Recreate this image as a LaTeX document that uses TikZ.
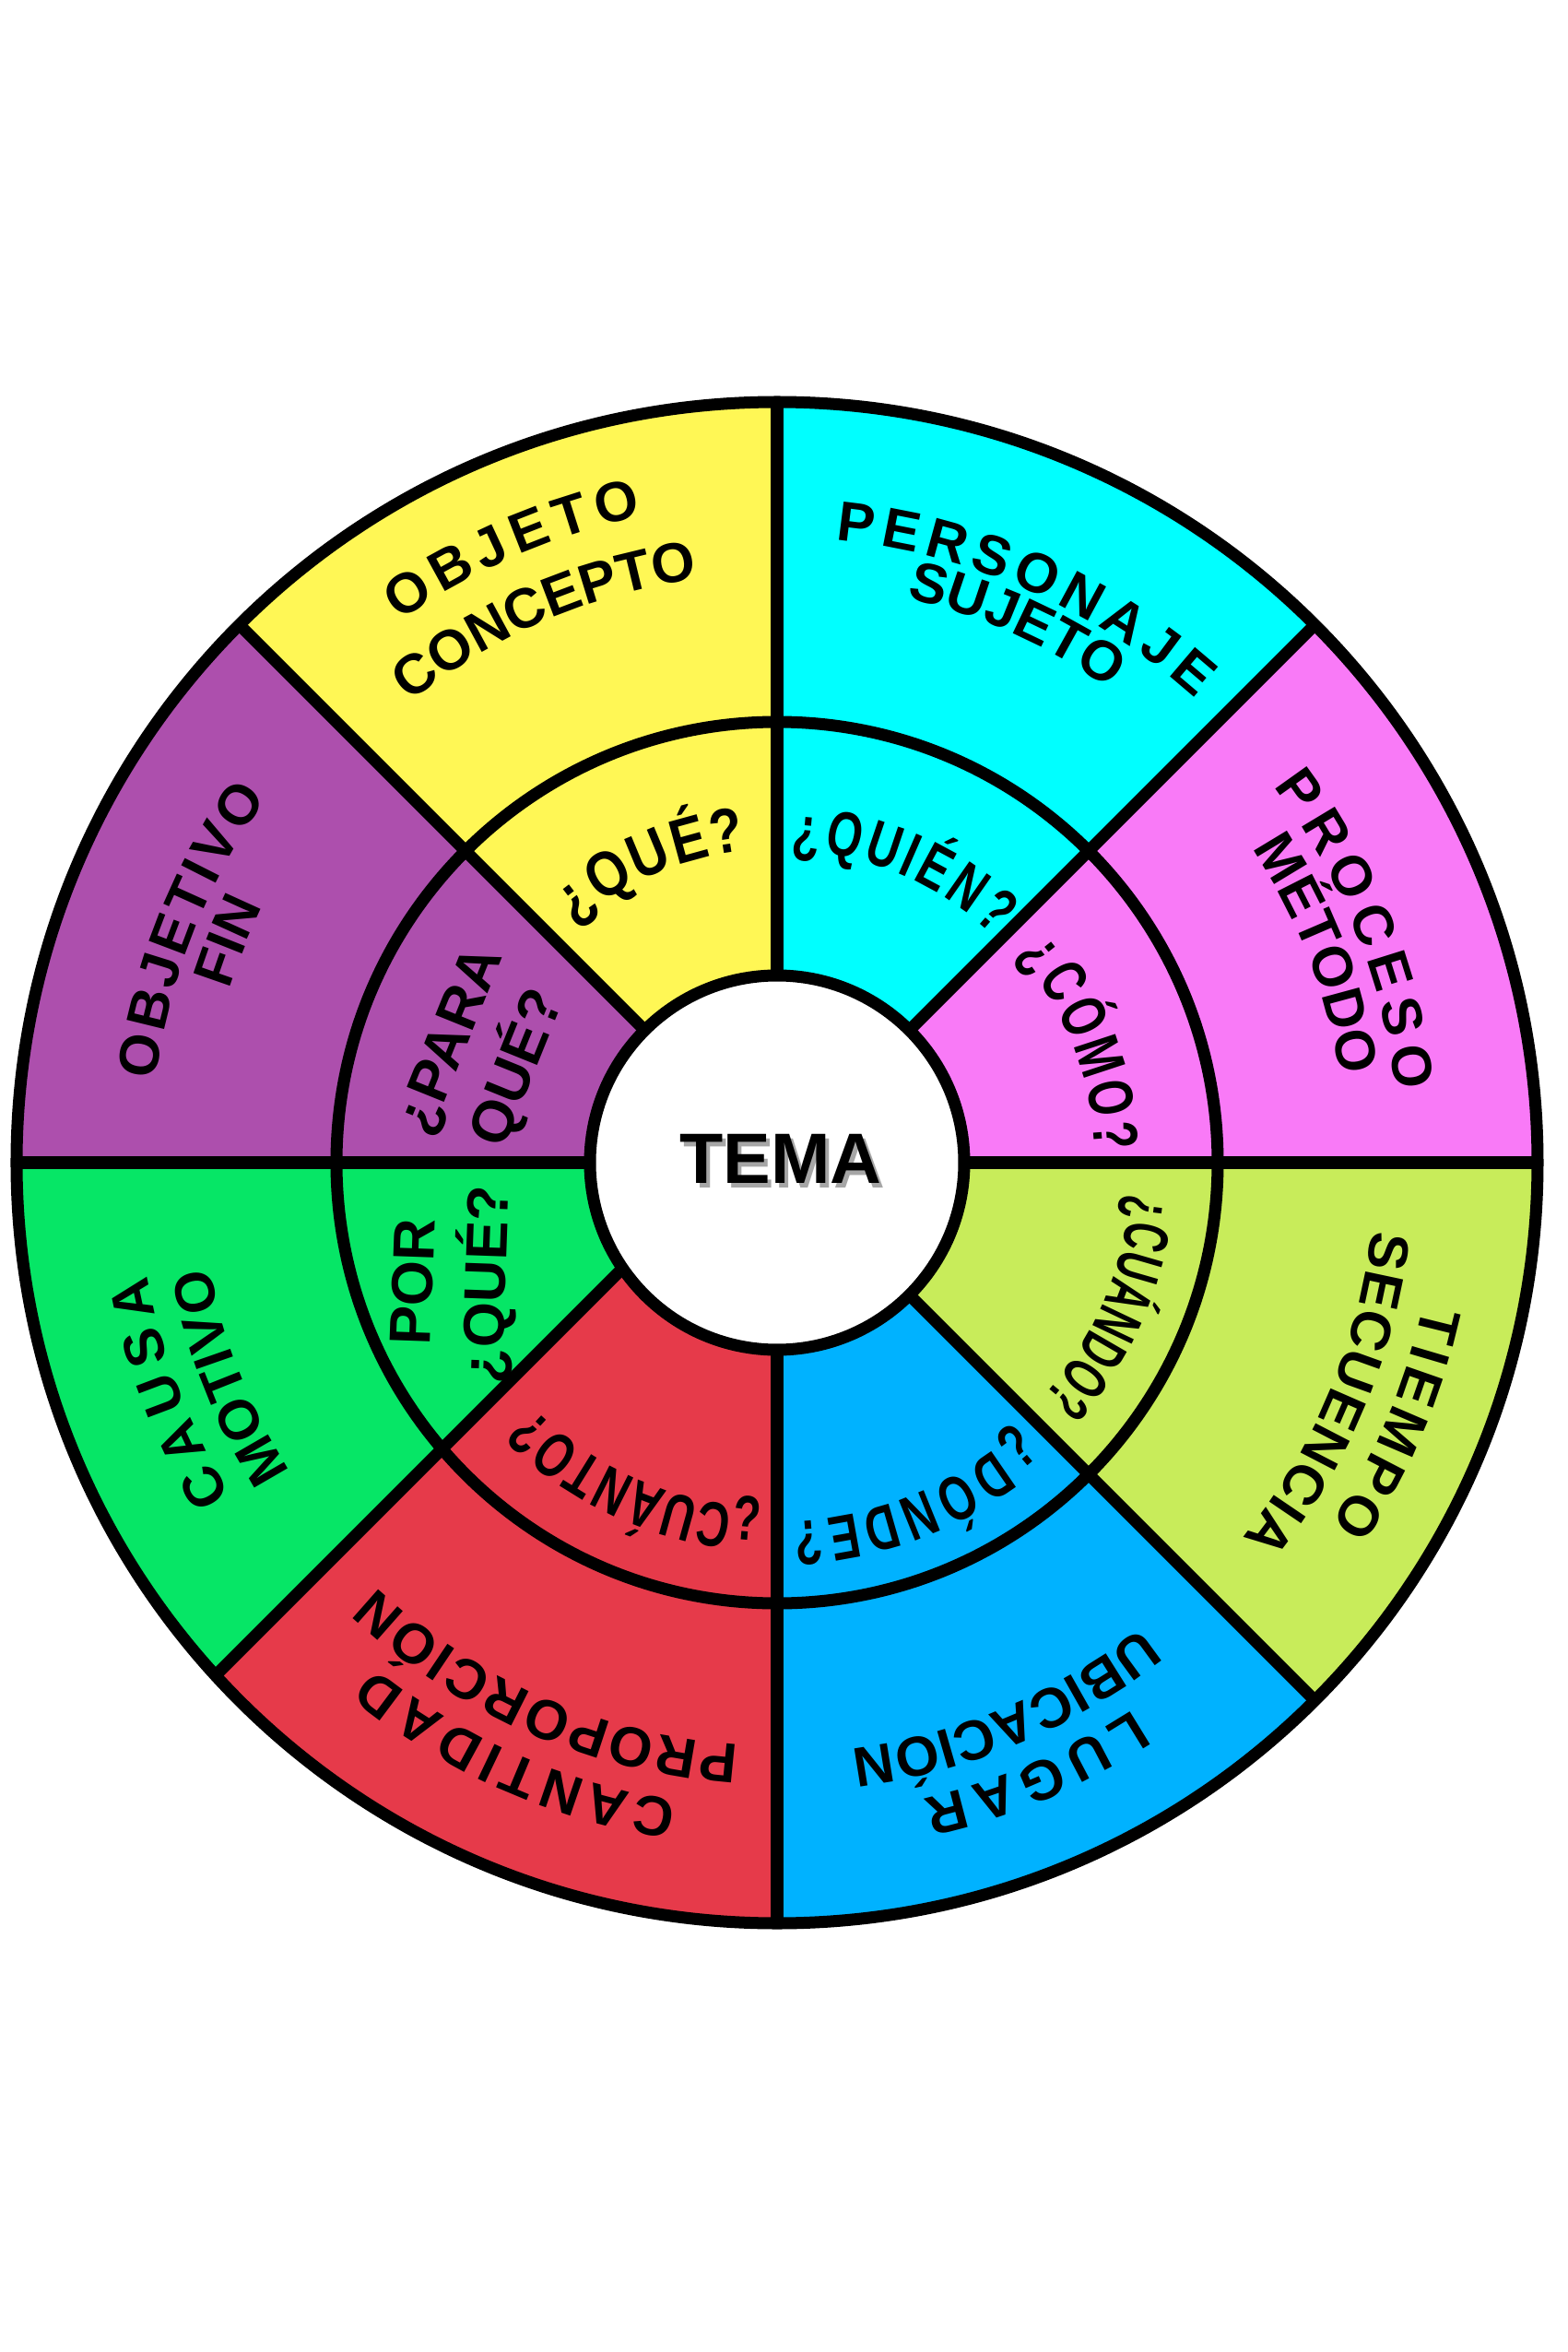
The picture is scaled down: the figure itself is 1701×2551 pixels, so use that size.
\documentclass[tikz,border=0pt]{standalone}
\usepackage{fontspec}
\setmainfont{Liberation Sans}
\newfontfamily\wideqfamily{Liberation Sans}[FakeStretch=0.85]
\newfontfamily\narrowqfamily{Liberation Sans}[FakeStretch=0.72]
\newfontfamily\narrowerqfamily{Liberation Sans}[FakeStretch=0.62]
\usetikzlibrary{decorations.text}

\definecolor{yellowc}{HTML}{FFF755}
\definecolor{cyanc}{HTML}{00FFFF}
\definecolor{magentac}{HTML}{F97AF7}
\definecolor{purplec}{HTML}{AD4FAD}
\definecolor{greenc}{HTML}{06E666}
\definecolor{redc}{HTML}{E63A4A}
\definecolor{bluec}{HTML}{00B2FF}
\definecolor{limec}{HTML}{C8EC5A}

\newcommand\rimfont{\bfseries\fontsize{17.3}{20}\selectfont}
\newcommand\hubfont{\bfseries\fontsize{22}{26}\selectfont}
\newcommand\qfont{\bfseries\fontsize{18}{22.5}\selectfont}
\newcommand\qwide{\wideqfamily\bfseries\fontsize{19.5}{22}\selectfont}
\newcommand\qnarrow{\narrowqfamily\bfseries\fontsize{19.5}{22}\selectfont}
\newcommand\qnarrower{\narrowerqfamily\bfseries\fontsize{19.5}{22}\selectfont}
% radius, start angle, end angle, font, text
\newcommand\arclabel[5]{%
  \path[decorate,decoration={text along path,text align=fit to path,text={|#4|#5}}]
    (#2:#1) arc[start angle=#2,end angle=#3,radius=#1];}

\begin{document}
\begin{tikzpicture}[x=0.01cm,y=0.01cm,
  rim/.style={draw=black,line width=0.13cm}]
	\useasboundingbox[fill=white] (-843,-1290) rectangle (858,1261);
	% Sectors
	\foreach \a/\c in {0/magentac,45/cyanc,90/yellowc,135/purplec,270/bluec,315/limec}
		\fill[\c] (0,0) -- (\a:825) arc[start angle=\a,end angle=\a+45,radius=825] -- cycle;
	\fill[redc] (0,0) -- (180:825) arc[start angle=180,end angle=270,radius=825] -- cycle;
	\begin{scope}
		\clip (0,0) -- (180:825) arc[start angle=180,end angle=270,radius=825] -- cycle;
		\fill[greenc] (135:37.5) ++(45:400) -- ++(225:1400) -- ++(135:1000) -- ++(45:1400) -- cycle;
	\end{scope}
	% Hub
	\fill[white] (0,0) circle[radius=203];
	% Rings
	\draw[rim] (0,0) circle[radius=825];
	\draw[rim] (0,0) circle[radius=478];
	\draw[rim] (0,0) circle[radius=203];
	% Spokes
	\foreach \a in {0,45,90,135,180,270,315}
		\draw[rim] (\a:203) -- (\a:825);
	\draw[rim] (135:37.5) ++(225:199.5) -- ++(225:624.6);
	% Centre
	\node[text=black!35,font=\hubfont] (temashadow) at (8,-1) {TEMA};
	\node[font=\hubfont] (tema) at (4,4) {TEMA};
	% Questions
	\arclabel{340}{130.6}{95.7}{\qwide}{¿QUÉ?}
	\arclabel{340}{87.4}{46.3}{\qnarrow}{¿QUIÉN?}
	\arclabel{345}{40.9}{2.1}{\qnarrow}{¿CÓMO?}
	\arclabel{385}{-5.2}{-41.4}{\qnarrower}{¿CUÁNDO?}
	\arclabel{390}{-47.6}{-87.5}{\qnarrow}{¿DÓNDE?}
	\arclabel{375}{-92.5}{-134.9}{\qnarrow}{¿CUÁNTO?}
	\node[font=\qfont,rotate=68,align=center] (paraque) at (-315,116) {¿PARA\\QUÉ?};
	\node[font=\qfont,rotate=88,align=center] (porque) at (-350,-131) {POR\\¿QUÉ?};
	% Rim words
	\arclabel{716}{124.9}{101.8}{\rimfont}{OBJETO}
	\arclabel{639}{128.6}{98.4}{\rimfont}{CONCEPTO}
	\arclabel{678}{84.6}{47.9}{\rimfont}{PERSONAJE}
	\arclabel{628}{77.1}{55.2}{\rimfont}{SUJETO}
	\arclabel{676}{37.2}{6.6}{\rimfont}{PROCESO}
	\arclabel{618}{33.5}{8.8}{\rimfont}{MÉTODO}
	\arclabel{718}{-12.4}{-33.2}{\rimfont}{TIEMPO}
	\arclabel{649}{-6.5}{-38.9}{\rimfont}{SECUENCIA}
	\arclabel{708}{-56.9}{-77.1}{\rimfont}{LUGAR}
	\arclabel{641}{-51.9}{-82.8}{\rimfont}{UBICACIÓN}
	\arclabel{701}{-98.9}{-128.6}{\rimfont}{CANTIDAD}
	\arclabel{633}{-93.8}{-133.4}{\rimfont}{PROPORCIÓN}
	\arclabel{694}{211.4}{190.2}{\rimfont}{CAUSA}
	\arclabel{626}{212.4}{190.4}{\rimfont}{MOTIVO}
	\arclabel{680}{172.4}{144.4}{\rimfont}{OBJETIVO}
	\arclabel{623}{162.5}{153.6}{\rimfont}{FIN}
\end{tikzpicture}
\end{document}
